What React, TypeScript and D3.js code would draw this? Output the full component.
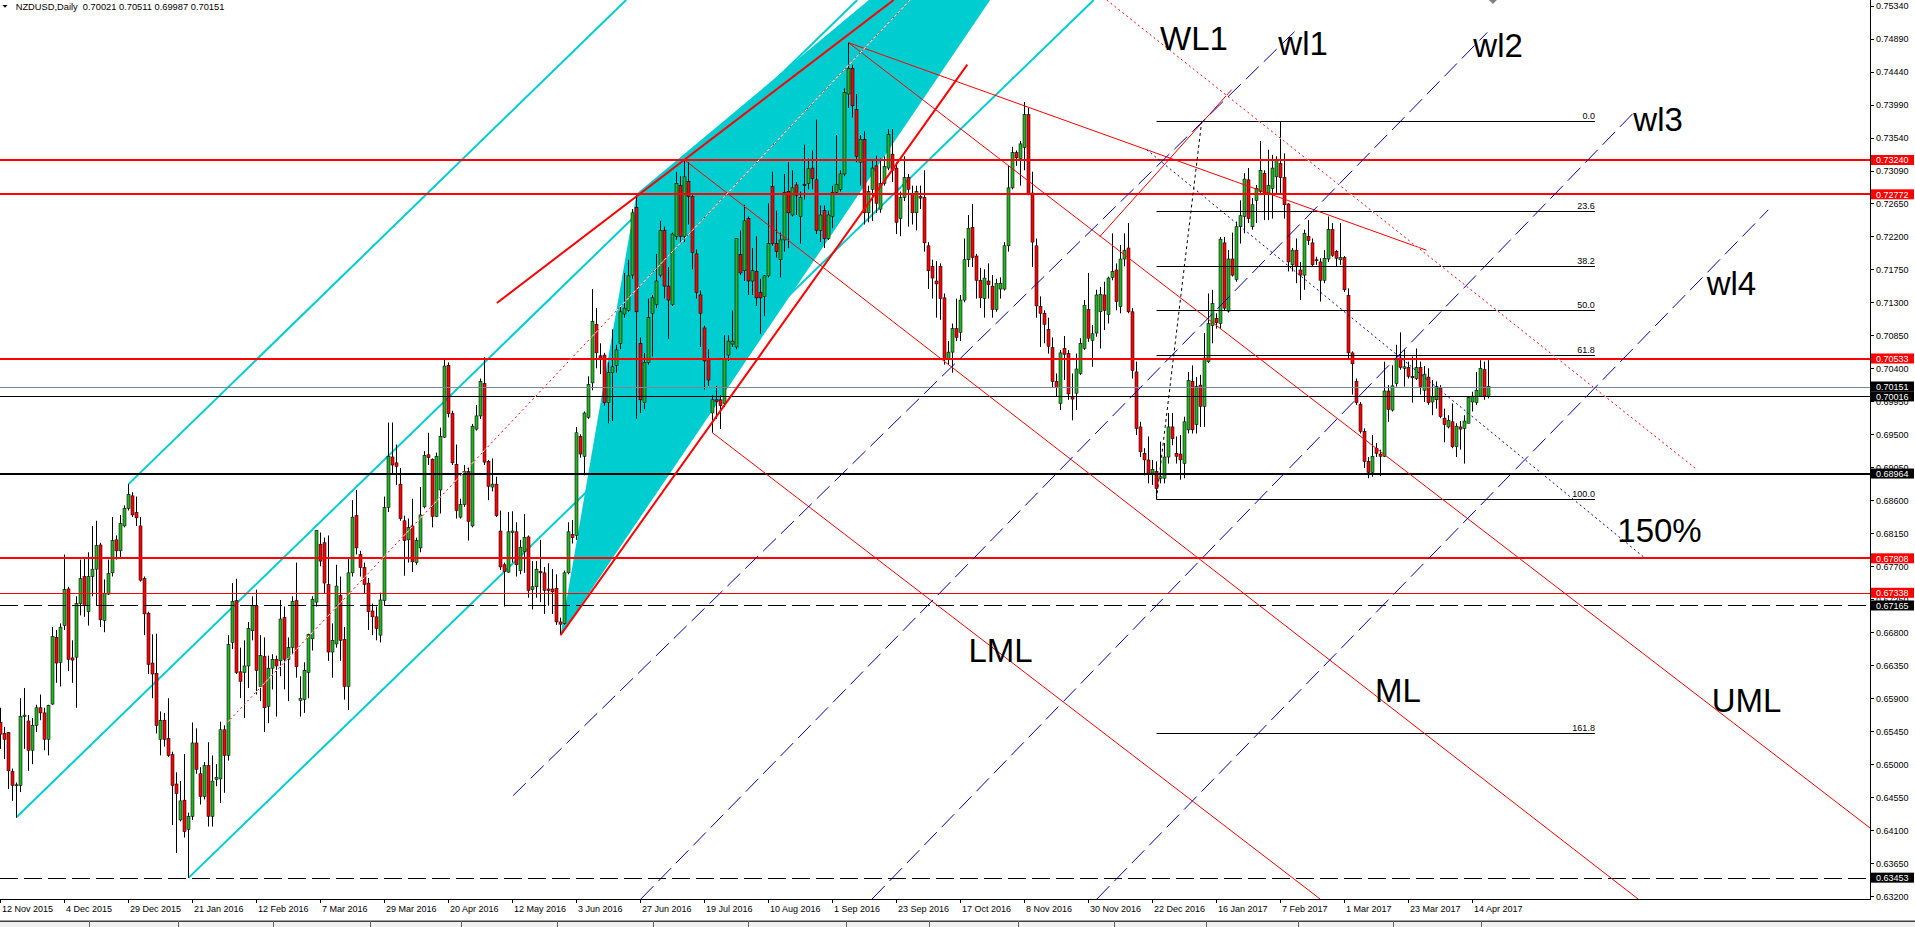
import { useEffect } from "react";
import * as d3 from "d3";

// Daily NZDUSD candles, [open, high, low, close] in pips (x 0.0001)
const candlesNov15toMay16 = [
  [6557,6577,6521,6541],[6542,6551,6507,6534],[6543,6544,6466,6491],[6490,6494,6450,6471],[6471,6475,6427,6472],
  [6471,6590,6462,6565],[6565,6604,6521,6567],[6559,6567,6491,6519],[6519,6563,6500,6553],[6553,6581,6544,6577],
  [6577,6595,6560,6570],[6570,6577,6519,6534],[6534,6581,6512,6580],[6582,6687,6581,6674],[6673,6683,6611,6638],
  [6639,6692,6606,6687],[6689,6786,6683,6738],[6739,6742,6627,6643],[6645,6669,6611,6642],[6646,6729,6577,6719],
  [6719,6779,6703,6753],[6756,6780,6701,6716],[6708,6789,6689,6756],[6756,6825,6729,6766],[6766,6832,6717,6798],
  [6799,6802,6687,6697],[6696,6752,6680,6733],[6732,6779,6731,6760],[6761,6837,6756,6805],[6806,6812,6779,6791],
  [6791,6840,6782,6828],[6825,6853,6823,6849],[6849,6882,6846,6868],[6866,6871,6837,6840],[6843,6865,6825,6836],
  [6825,6837,6749,6751],[6753,6756,6676,6705],[6706,6708,6623,6636],[6638,6677,6590,6623],[6624,6678,6542,6553],
  [6534,6572,6512,6560],[6560,6570,6524,6534],[6535,6590,6510,6512],[6513,6517,6417,6471],[6473,6489,6379,6460],
  [6424,6477,6422,6450],[6451,6514,6400,6408],[6411,6434,6345,6429],[6429,6557,6424,6529],[6529,6549,6487,6493],
  [6487,6496,6445,6456],[6456,6503,6452,6498],[6498,6530,6415,6429],[6429,6512,6415,6477],[6479,6500,6470,6482],
  [6480,6558,6447,6547],[6547,6553,6461,6512],[6512,6676,6505,6663],[6666,6747,6657,6722],[6723,6753,6623,6625],
  [6626,6659,6590,6613],[6625,6669,6563,6634],[6634,6694,6604,6685],[6682,6729,6669,6716],[6716,6738,6595,6628],
  [6606,6676,6586,6648],[6647,6673,6544,6577],[6579,6648,6556,6631],[6631,6650,6602,6643],[6643,6648,6565,6634],
  [6641,6724,6620,6698],[6700,6715,6602,6643],[6643,6673,6586,6659],[6659,6729,6650,6722],[6723,6775,6618,6633],
  [6587,6620,6565,6590],[6588,6639,6570,6628],[6625,6678,6590,6677],[6671,6729,6655,6725],[6721,6819,6715,6819],
  [6800,6816,6770,6777],[6802,6809,6733,6747],[6745,6812,6641,6653],[6653,6692,6618,6669],[6664,6772,6659,6743],
  [6730,6756,6641,6669],[6670,6687,6588,6606],[6606,6782,6574,6761],[6761,6860,6756,6837],[6839,6874,6786,6795],
  [6786,6791,6756,6768],[6768,6775,6733,6745],[6747,6754,6683,6708],[6709,6719,6676,6701],[6701,6715,6669,6685],
  [6676,6734,6666,6724],[6723,6865,6717,6850],[6850,6966,6844,6920],[6919,6966,6895,6908],[6911,6936,6881,6906],
  [6882,6904,6832,6835],[6832,6839,6757,6805],[6806,6835,6775,6823],[6825,6862,6762,6776],[6775,6809,6772,6805],
  [6795,6878,6789,6840],[6851,6927,6849,6921],[6922,6952,6908,6918],[6916,6917,6823,6838],[6838,6925,6837,6920],
  [6874,6959,6842,6947],[6946,7052,6945,7043],[7044,7048,6973,6978],[6978,6982,6908,6911],[6909,6936,6835,6846],
  [6837,6862,6835,6854],[6854,6908,6851,6899],[6899,6904,6805,6831],[6825,6964,6823,6961],[6957,6990,6955,6975],
  [6975,7026,6971,7022],[7019,7055,6908,6912],[6913,6915,6860,6879],[6878,6917,6872,6882],[6882,6892,6837,6839],
  [6818,6846,6765,6769],[6772,6775,6715,6763],[6762,6844,6761,6817],[6816,6845,6775,6818],[6817,6830,6756,6772],
];

const candlesMay16toNov16 = [
  [6764,6806,6759,6796],[6790,6841,6761,6809],[6810,6812,6727,6737],[6738,6777,6711,6742],[6742,6777,6727,6766],
  [6763,6806,6721,6761],[6761,6769,6705,6737],[6739,6774,6716,6737],[6739,6766,6705,6735],[6740,6759,6690,6694],
  [6694,6700,6676,6691],[6692,6764,6690,6761],[6761,6830,6759,6817],[6813,6833,6801,6809],[6812,6960,6806,6952],
  [6947,6950,6918,6923],[6920,6981,6894,6979],[6973,7029,6971,7018],[7020,7148,7010,7104],[7100,7122,7040,7061],
  [7057,7074,7032,7054],[7058,7061,6989,6993],[6993,7048,6965,7034],[7034,7093,6968,7042],[7044,7072,7034,7065],
  [7074,7125,7066,7117],[7114,7170,7109,7122],[7119,7188,7117,7166],[7167,7257,7162,7252],[7259,7278,6971,7117],
  [7074,7082,6979,6997],[6993,7061,6984,7048],[7048,7135,7045,7109],[7115,7140,7056,7136],[7127,7196,7122,7159],
  [7167,7241,7164,7228],[7228,7233,7135,7152],[7152,7178,7080,7133],[7127,7225,7125,7223],[7220,7308,7215,7292],
  [7289,7302,7212,7220],[7220,7324,7212,7301],[7295,7321,7236,7274],[7274,7278,7175,7198],[7196,7202,7135,7143],
  [7140,7146,7069,7115],[7095,7098,7011,7050],[7053,7066,7016,7024],[6979,7003,6952,6997],[6997,7016,6971,6995],
  [6997,7003,6957,6989],[6992,7085,6987,7053],[7058,7085,7050,7077],[7073,7119,7069,7077],[7069,7217,7066,7217],
  [7195,7228,7167,7170],[7173,7263,7159,7241],[7244,7247,7140,7159],[7159,7204,7140,7173],[7172,7220,7125,7136],
  [7143,7162,7087,7136],[7138,7167,7111,7166],[7166,7265,7164,7210],[7288,7308,7207,7210],[7210,7255,7191,7199],
  [7188,7225,7164,7215],[7215,7305,7199,7280],[7281,7321,7204,7252],[7249,7310,7247,7286],[7290,7294,7249,7276],
  [7247,7281,7210,7273],[7291,7345,7270,7289],[7292,7326,7284,7312],[7313,7337,7284,7299],[7297,7379,7223,7228],
  [7228,7262,7212,7249],[7255,7262,7204,7217],[7217,7255,7215,7249],[7247,7289,7231,7280],[7280,7358,7278,7291],
  [7284,7310,7281,7305],[7305,7422,7302,7416],[7414,7484,7395,7449],[7449,7454,7382,7398],[7393,7414,7321,7329],
  [7321,7358,7289,7352],[7352,7363,7236,7252],[7252,7289,7239,7281],[7284,7324,7241,7313],[7316,7330,7252,7265],
  [7257,7326,7252,7292],[7292,7329,7289,7315],[7313,7366,7310,7359],[7332,7366,7294,7310],[7313,7321,7223,7239],
  [7244,7281,7220,7273],[7273,7329,7268,7300],[7300,7305,7233,7284],[7278,7289,7236,7252],[7252,7289,7228,7281],
  [7274,7289,7257,7272],[7273,7310,7199,7211],[7207,7212,7148,7173],[7179,7188,7135,7163],[7159,7186,7109,7155],
  [7179,7183,7106,7135],[7136,7142,7045,7053],[7053,7077,7045,7062],[7062,7101,7034,7094],[7094,7135,7077,7082],
  [7089,7140,7077,7133],[7133,7217,7130,7188],[7188,7249,7178,7231],[7232,7264,7178,7191],[7193,7196,7135,7160],
  [7160,7177,7122,7136],[7135,7175,7109,7163],[7159,7183,7135,7154],[7152,7167,7109,7120],[7120,7162,7117,7156],
  [7148,7164,7135,7156],[7148,7212,7146,7207],[7207,7316,7199,7286],[7286,7342,7284,7334],[7334,7337,7316,7327],
  [7326,7350,7289,7346],[7341,7403,7310,7386],[7386,7395,7276,7278],[7279,7308,7178,7212],[7207,7217,7109,7125],
];

const candlesNov16toApr17 = [
  [7124,7138,7069,7115],[7115,7119,7074,7100],[7093,7109,7060,7070],[7068,7082,7013,7022],[7022,7033,7001,7014],
  [6992,7065,6983,7061],[7067,7084,7024,7059],[7060,7065,6997,7005],[7001,7033,6969,6998],[7006,7060,6983,7039],
  [7033,7081,7031,7074],[7067,7133,7065,7126],[7120,7170,7076,7081],[7078,7099,7042,7087],[7088,7147,7083,7140],
  [7117,7151,7067,7141],[7140,7158,7092,7119],[7113,7165,7101,7163],[7164,7224,7160,7172],[7174,7183,7119,7131],
  [7124,7208,7115,7189],[7189,7224,7179,7201],[7204,7238,7115,7117],[7117,7122,7026,7037],[7035,7049,6949,6958],
  [6960,6967,6919,6926],[6924,6931,6894,6915],[6915,6947,6883,6897],[6897,6915,6881,6902],[6899,6913,6861,6876],
  [6890,6940,6883,6892],[6890,6938,6883,6919],[6919,6979,6910,6960],[6960,6979,6935,6944],[6924,6947,6910,6920],
  [6923,6949,6888,6915],[6910,6974,6890,6967],[6956,7035,6951,7023],[7022,7044,6951,6956],[6963,7028,6951,7015],
  [7017,7031,6960,6988],[6988,7088,6960,7054],[7049,7142,7047,7101],[7098,7147,7074,7128],[7108,7115,7094,7102],
  [7101,7219,7094,7216],[7211,7219,7119,7122],[7118,7201,7116,7189],[7189,7225,7165,7167],[7161,7240,7158,7233],
  [7233,7269,7210,7248],[7247,7306,7224,7298],[7297,7313,7238,7244],[7233,7272,7229,7263],[7269,7290,7238,7285],
  [7281,7350,7276,7310],[7306,7310,7242,7279],[7279,7338,7242,7289],[7285,7331,7244,7313],[7301,7329,7279,7323],
  [7319,7377,7279,7300],[7300,7333,7244,7263],[7264,7265,7172,7185],[7181,7204,7172,7201],[7201,7217,7156,7179],
  [7174,7185,7133,7167],[7167,7229,7147,7224],[7220,7242,7208,7214],[7211,7217,7179,7181],[7188,7192,7181,7187],
  [7185,7190,7131,7160],[7160,7201,7156,7190],[7189,7247,7185,7229],[7229,7238,7192,7194],[7199,7201,7179,7190],
  [7188,7238,7181,7191],[7191,7193,7144,7147],[7139,7149,7051,7061],[7061,7063,7004,7046],[7022,7026,6990,6993],
  [6991,6994,6951,6954],[6954,6958,6904,6913],[6913,6919,6890,6898],[6898,6949,6892,6920],[6931,6938,6919,6924],
  [6923,6929,6893,6920],[6920,7049,6919,7009],[7009,7017,6967,6984],[6983,7044,6981,7016],[7019,7072,7015,7054],
  [7054,7089,7038,7041],[7040,7065,7015,7042],[7041,7049,7026,7029],[7029,7056,6993,7027],[7026,7067,7024,7041],
  [7041,7049,7004,7015],[7010,7043,6994,7032],[7028,7040,6990,6993],[6994,7024,6976,7001],[6997,7022,6985,7015],
  [7013,7017,6972,6974],[6972,6985,6939,6963],[6960,6976,6958,6969],[6967,6992,6931,6933],[6933,6965,6919,6961],
  [6960,6968,6929,6957],[6958,6976,6910,6968],[6965,7002,6965,7000],[6994,7008,6981,7002],[6993,7035,6990,7010],
  [7002,7051,7001,7040],[7038,7049,6997,7002],[7002,7051,6999,7015],
];

const lastQuote = [0.70021, 0.70511, 0.69987, 0.70151];

const dateLabels = [
  "12 Nov 2015", "4 Dec 2015", "29 Dec 2015", "21 Jan 2016", "12 Feb 2016", "7 Mar 2016",
  "29 Mar 2016", "20 Apr 2016", "12 May 2016", "3 Jun 2016", "27 Jun 2016", "19 Jul 2016",
  "10 Aug 2016", "1 Sep 2016", "23 Sep 2016", "17 Oct 2016", "8 Nov 2016", "30 Nov 2016",
  "22 Dec 2016", "16 Jan 2017", "7 Feb 2017", "1 Mar 2017", "23 Mar 2017", "14 Apr 2017",
];
const barsPerDateLabel = 16;

const priceTicks = [
  0.7534, 0.7489, 0.7444, 0.7399, 0.7354, 0.7309, 0.7265, 0.722, 0.7175, 0.713, 0.7085, 0.704,
  0.6995, 0.695, 0.6905, 0.686, 0.6815, 0.677, 0.6725, 0.668, 0.6635, 0.659, 0.6545, 0.65,
  0.6455, 0.641, 0.6365, 0.632,
];

// horizontal levels
const thickRedLevels = [0.7324, 0.72772, 0.70533, 0.67808];
const thinRedLevels = [0.67338];
const thickBlackLevels = [0.68964];
const thinBlackLevels = [0.70016];
const dashedBlackLevels = [0.67165, 0.63453];
const bidLevel = [0.70151];

// drawing objects, points as [bar index, price]
const cyanChannel = [
  [[4.05, 0.6428], [214.2, 0.75422]],
  [[32, 0.6882], [156.4, 0.75422]],
  [[47, 0.6345], [273.3, 0.75422]],
];
const cyanTriangle = [[140, 0.6676], [159, 0.7278], [286.7, 0.7859]];
const thickRedTrends = [
  [[124.1, 0.7129], [223.3, 0.75422]],
  [[140, 0.6676], [241.7, 0.7454]],
];
const thinRedTrends = [
  [[212, 0.7484], [356.5, 0.7201]],
  [[212, 0.7484], [467.4, 0.6413]],
  [[171, 0.7324], [409.4, 0.63162]],
  [[178, 0.6952], [329.9, 0.63162]],
  [[274.9, 0.722], [307.8, 0.742]],
];
const dottedRedTrends = [
  [[56.55, 0.6556], [227.4, 0.75422]],
  [[276.55, 0.75422], [424.3, 0.6901]],
];
const warningLines = [
  [[128.1, 0.6457], [324.45, 0.7504]],
  [[160.1, 0.63162], [371.7, 0.7498]],
  [[217.9, 0.63162], [408.2, 0.7388]],
  [[274.1, 0.63162], [441.95, 0.7256]],
];
const targetLine = [[286.55, 0.7338], [410.7, 0.6783]];

const fibHigh = 0.73767;
const fibLow = 0.68612;
const fibLevels = [0, 23.6, 38.2, 50, 61.8, 100, 161.8];
const fibSpan = [289, 398.6];
const fibDiagonal = [[289, 0.68612], [300.3, 0.73767]];

const chartTexts = ["WL1", "wl1", "wl2", "wl3", "wl4", "150%", "LML", "ML", "UML"];
const chartTextAnchors = [
  [289.9, 0.7474], [319.45, 0.74672], [368.2, 0.74649], [408.2, 0.7364], [426.55, 0.71399],
  [404.2, 0.68026], [242, 0.66394], [343.6, 0.65849], [427.8, 0.65708],
];
const shiftMarkerBar = 373.1;

const W = 1915;
const H = 927;
const PLOT_W = 1870;
const PLOT_H = 899;
const BAR_PX = 4;
const CYAN = "#00cdd0";
const RED = "#ff0000";
const NAVY = "#0000a8";
const BULL = "#22b422";
const FONT = "'Liberation Sans', Arial, sans-serif";

const bars = [...candlesNov15toMay16, ...candlesMay16toNov16, ...candlesNov16toApr17].map(
  ([o, h, l, c], i) => ({ i, o: o / 1e4, h: h / 1e4, l: l / 1e4, c: c / 1e4 })
);

export default function App() {
  useEffect(() => {
    document.body.style.margin = "0";
    document.body.style.overflow = "hidden";
  }, []);

  const x = d3.scaleLinear().domain([0, PLOT_W / BAR_PX]).range([0.5, PLOT_W + 0.5]);
  const y = d3.scaleLinear().domain([0.63162, 0.75422]).range([PLOT_H, 0]);

  const seg = (pts: number[][]) => ({
    x1: x(pts[0][0]),
    y1: y(pts[0][1]),
    x2: x(pts[1][0]),
    y2: y(pts[1][1]),
  });

  const triPath = d3.line<number[]>().x((d) => x(d[0])).y((d) => y(d[1]))(cyanTriangle) + "Z";

  const fibRange = fibHigh - fibLow;

  const hLine = (p: number, color: string, width: number, dash?: string, key?: string) => (
    <line
      key={key ?? `${p}-${color}`}
      x1={0}
      x2={PLOT_W}
      y1={Math.round(y(p)) + (width % 2 ? 0.5 : 0)}
      y2={Math.round(y(p)) + (width % 2 ? 0.5 : 0)}
      stroke={color}
      strokeWidth={width}
      strokeDasharray={dash}
    />
  );

  const redBoxes = [...thickRedLevels, ...thinRedLevels];
  const blackBoxes = [...bidLevel, ...thinBlackLevels, ...thickBlackLevels, ...dashedBlackLevels];

  const tabSeparators = [89, 178, 273, 370, 461, 557, 653, 748, 846, 929, 1018, 1114, 1206, 1298, 1393, 1481];

  return (
    <svg
      width={W}
      height={H}
      style={{ position: "absolute", left: 0, top: 0, display: "block", background: "#fff" }}
      fontFamily={FONT}
    >
      <defs>
        <clipPath id="plot">
          <rect x={0} y={0} width={PLOT_W} height={PLOT_H} />
        </clipPath>
      </defs>
      <rect x={0} y={0} width={W} height={H} fill="#fff" />

      <g clipPath="url(#plot)">
        {/* cyan channel lines (under the filled triangle) */}
        {cyanChannel.map((pts, k) => (
          <line key={`cy${k}`} {...seg(pts)} stroke={CYAN} strokeWidth={2} />
        ))}
        <path d={triPath} fill={CYAN} stroke="none" />

        {/* candles */}
        {bars.map((b) => {
          const cx = x(b.i);
          const up = b.c >= b.o;
          const top = y(Math.max(b.o, b.c));
          const bot = y(Math.min(b.o, b.c));
          return (
            <g key={`b${b.i}`}>
              <line x1={cx} x2={cx} y1={y(b.h)} y2={y(b.l)} stroke="#000" strokeWidth={1} />
              <rect
                x={cx - 1.5}
                y={top}
                width={3}
                height={Math.max(1, bot - top)}
                fill={up ? BULL : RED}
                stroke="#000"
                strokeWidth={0.55}
              />
            </g>
          );
        })}

        {/* horizontal levels */}
        {thickRedLevels.map((p) => hLine(p, RED, 2))}
        {thinRedLevels.map((p) => hLine(p, RED, 1))}
        {bidLevel.map((p) => hLine(p, "#778899", 1))}
        {thinBlackLevels.map((p) => hLine(p, "#000", 1))}
        {thickBlackLevels.map((p) => hLine(p, "#000", 2))}
        {dashedBlackLevels.map((p) => hLine(p, "#000", 1, "18,6"))}

        {/* fibonacci retracement */}
        {fibLevels.map((lvl) => {
          const p = fibHigh - (lvl / 100) * fibRange;
          const yy = Math.round(y(p)) + 0.5;
          return (
            <g key={`fib${lvl}`}>
              <line x1={x(fibSpan[0])} x2={x(fibSpan[1])} y1={yy} y2={yy} stroke="#000" strokeWidth={1} />
              <text x={x(fibSpan[1])} y={yy - 2.5} fontSize={9} textAnchor="end" fill="#000">
                {lvl.toFixed(1)}
              </text>
            </g>
          );
        })}
        <line {...seg(fibDiagonal)} stroke="#000" strokeWidth={1} strokeDasharray="3,3" />

        {/* pitchfork style trend lines */}
        {thickRedTrends.map((pts, k) => (
          <line key={`tr${k}`} {...seg(pts)} stroke={RED} strokeWidth={2} />
        ))}
        {thinRedTrends.map((pts, k) => (
          <line key={`rt${k}`} {...seg(pts)} stroke={RED} strokeWidth={1} />
        ))}
        {dottedRedTrends.map((pts, k) => (
          <g key={`rd${k}`}>
            <line {...seg(pts)} stroke="#fff" strokeWidth={1} />
            <line {...seg(pts)} stroke={RED} strokeWidth={1} strokeDasharray="2,3" />
          </g>
        ))}
        {warningLines.map((pts, k) => (
          <line key={`wl${k}`} {...seg(pts)} stroke={NAVY} strokeWidth={1} strokeDasharray="18,7" />
        ))}
        <line {...seg(targetLine)} stroke={NAVY} strokeWidth={1} strokeDasharray="2,3" />

        {/* chart text objects */}
        {chartTexts.map((t, k) => (
          <text
            key={`t${t}`}
            x={x(chartTextAnchors[k][0])}
            y={y(chartTextAnchors[k][1])}
            fontSize={33}
            fill="#000"
          >
            {t}
          </text>
        ))}
      </g>

      {/* chart shift marker */}
      <path
        d={`M${x(shiftMarkerBar) - 4},0 L${x(shiftMarkerBar) + 4},0 L${x(shiftMarkerBar)},4 Z`}
        fill="#808080"
      />

      {/* axes frame */}
      <line x1={PLOT_W + 0.5} x2={PLOT_W + 0.5} y1={0} y2={PLOT_H + 1} stroke="#000" />
      <line x1={0} x2={PLOT_W + 1} y1={PLOT_H + 0.5} y2={PLOT_H + 0.5} stroke="#000" />

      {/* price scale */}
      {priceTicks.map((p) => (
        <g key={`pt${p}`}>
          <line x1={PLOT_W} x2={PLOT_W + 4} y1={Math.round(y(p)) + 0.5} y2={Math.round(y(p)) + 0.5} stroke="#000" />
          <text x={PLOT_W + 6} y={y(p) + 3.3} fontSize={9} fill="#000">
            {p.toFixed(5)}
          </text>
        </g>
      ))}
      {redBoxes.map((p) => (
        <g key={`rb${p}`}>
          <rect x={PLOT_W + 1} y={y(p) - 5} width={43} height={10} fill={RED} />
          <text x={PLOT_W + 6} y={y(p) + 3.3} fontSize={9} fill="#fff">
            {p.toFixed(5)}
          </text>
        </g>
      ))}
      {blackBoxes.map((p) => (
        <g key={`bb${p}`}>
          <rect x={PLOT_W + 1} y={y(p) - 5} width={43} height={10} fill="#000" />
          <text x={PLOT_W + 6} y={y(p) + 3.3} fontSize={9} fill="#fff">
            {p.toFixed(5)}
          </text>
        </g>
      ))}

      {/* time scale */}
      {dateLabels.map((d, k) => {
        const tx = x(k * barsPerDateLabel);
        return (
          <g key={`d${k}`}>
            <line x1={tx} x2={tx} y1={PLOT_H} y2={PLOT_H + 4} stroke="#000" />
            <text x={tx + 1.5} y={912} fontSize={9} fill="#000">
              {d}
            </text>
          </g>
        );
      })}

      {/* header */}
      <path d="M2.5,5 L7.5,5 L5,7.8 Z" fill="#000" />
      <text x={15.7} y={10} fontSize={9.3} fill="#000" style={{ whiteSpace: "pre" }}>
        {`NZDUSD,Daily  ${lastQuote.map((v) => v.toFixed(5)).join(" ")}`}
      </text>

      {/* tab strip */}
      <rect x={0} y={920} width={W} height={7} fill="#f0f0f0" />
      <line x1={0} x2={W} y1={920.5} y2={920.5} stroke="#a0a0a0" />
      <line x1={0} x2={W} y1={921.5} y2={921.5} stroke="#404040" />
      {tabSeparators.map((sx) => (
        <line key={`ts${sx}`} x1={sx + 0.5} x2={sx + 0.5} y1={921} y2={927} stroke="#606060" />
      ))}
    </svg>
  );
}
